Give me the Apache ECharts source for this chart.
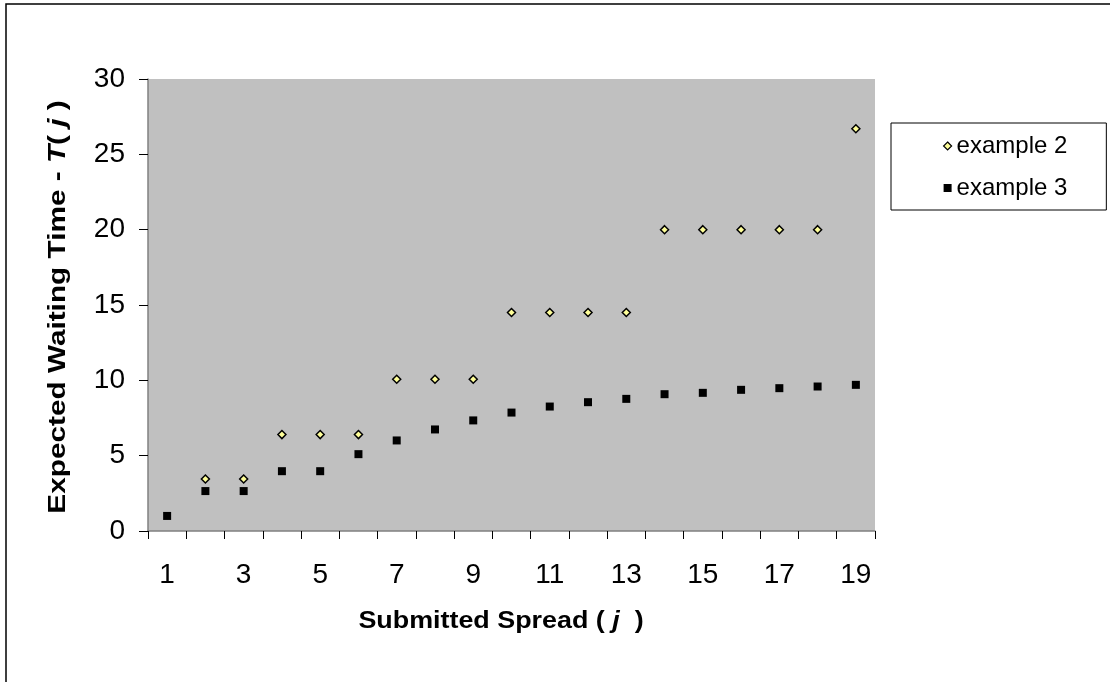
<!DOCTYPE html>
<html>
<head>
<meta charset="utf-8">
<script src="https://cdn.jsdelivr.net/npm/echarts@6/dist/echarts.min.js"></script>
<style>
html,body{margin:0;padding:0;background:#fff;}
#chart{width:1110px;height:682px;}
</style>
</head>
<body>
<div id="chart"></div>
<script>
const categories = ['1','2','3','4','5','6','7','8','9','10','11','12','13','14','15','16','17','18','19'];
const example2 = [null, 3.45, 3.45, 6.4, 6.4, 6.4, 10.07, 10.07, 10.07, 14.5, 14.5, 14.5, 14.5, 20, 20, 20, 20, 20, 26.7];
const example3 = [1.0, 2.65, 2.65, 3.97, 3.97, 5.1, 6.01, 6.74, 7.34, 7.86, 8.26, 8.55, 8.77, 9.08, 9.17, 9.37, 9.48, 9.59, 9.7];
const yTicks = { min: 0, max: 30, interval: 5 };

const FONT = '"Liberation Sans", Arial, sans-serif';
const chart = echarts.init(document.getElementById('chart'), null, { renderer: 'canvas' });

const titleRich = {
  b: { fontFamily: FONT, fontWeight: 'bold', fontSize: 24, color: '#000' },
  bi: { fontFamily: FONT, fontWeight: 'bold', fontStyle: 'italic', fontSize: 24, color: '#000' }
};

chart.setOption({
  backgroundColor: '#fff',
  animation: false,
  grid: { left: 148, top: 79, width: 727, height: 452, show: true, backgroundColor: '#C0C0C0', borderWidth: 0 },
  xAxis: {
    type: 'category',
    data: categories,
    boundaryGap: true,
    axisLine: { show: true, lineStyle: { color: '#808080', width: 1.5 } },
    axisTick: { show: true, interval: 0, length: 8, lineStyle: { color: '#000', width: 1 } },
    axisLabel: { interval: 1, margin: 30, fontFamily: FONT, fontSize: 28, color: '#000' },
    splitLine: { show: false }
  },
  yAxis: {
    type: 'value',
    min: yTicks.min, max: yTicks.max, interval: yTicks.interval,
    axisLine: { show: true, lineStyle: { color: '#808080', width: 1.5 } },
    axisTick: { show: true, length: 9, lineStyle: { color: '#000', width: 1 } },
    axisLabel: { margin: 23, fontFamily: FONT, fontSize: 28, color: '#000' },
    splitLine: { show: false }
  },
  legend: {
    orient: 'vertical',
    left: 891, top: 123,
    padding: [11, 39, 10, 52],
    itemGap: 18,
    itemWidth: 8, itemHeight: 8,
    backgroundColor: '#fff',
    borderColor: '#000', borderWidth: 1,
    textStyle: { fontFamily: FONT, fontSize: 24, color: '#000', lineHeight: 24 },
    data: [
      { name: 'example 2', icon: 'diamond', itemStyle: { color: '#FFFF99', borderColor: '#000', borderWidth: 1.2 } },
      { name: 'example 3', icon: 'rect', itemStyle: { color: '#000', borderWidth: 0 } }
    ]
  },
  series: [
    {
      name: 'example 2', type: 'scatter', data: example2,
      symbol: 'diamond', symbolSize: 8,
      itemStyle: { color: '#FFFF99', borderColor: '#000', borderWidth: 1.5, opacity: 1 }
    },
    {
      name: 'example 3', type: 'scatter', data: example3,
      symbol: 'rect', symbolSize: 8,
      itemStyle: { color: '#000', opacity: 1 }
    }
  ],
  graphic: [
    {
      type: 'rect', silent: true, z: -1,
      shape: { x: 6, y: 4, width: 1200, height: 800 },
      style: { fill: 'none', stroke: '#000', lineWidth: 1.5 }
    },
    {
      type: 'text', x: 501, y: 621, scaleX: 1.12,
      style: {
        text: '{b|Submitted Spread ( }{bi|j}{b|  )}',
        rich: titleRich, align: 'center', verticalAlign: 'middle', textAlign: 'center', textVerticalAlign: 'middle'
      }
    },
    {
      type: 'text', x: 58, y: 307, rotation: Math.PI / 2, scaleX: 1.24,
      style: {
        text: '{b|Expected Waiting Time - }{bi|T}{b|( }{bi|j}{b| )}',
        rich: titleRich, align: 'center', verticalAlign: 'middle', textAlign: 'center', textVerticalAlign: 'middle'
      }
    }
  ]
});
</script>
</body>
</html>
